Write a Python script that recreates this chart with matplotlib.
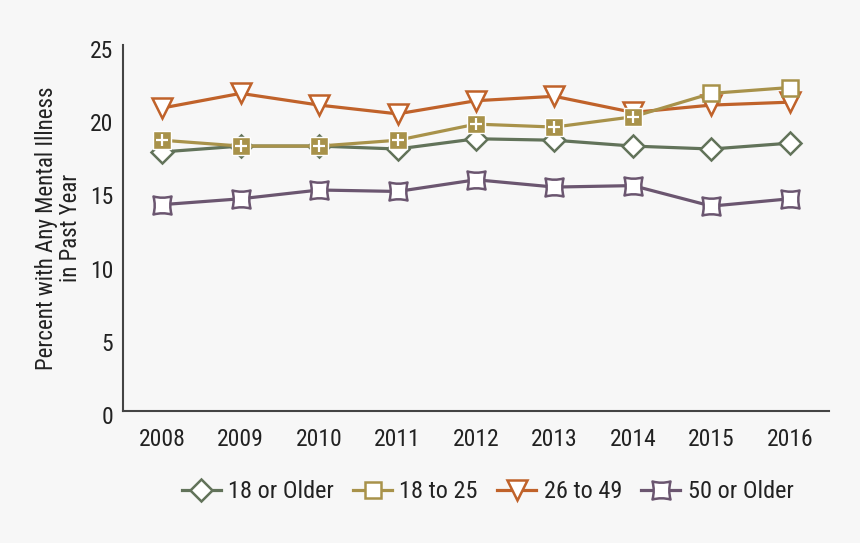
import matplotlib
matplotlib.use("Agg")
import matplotlib.pyplot as plt
from matplotlib.path import Path
from matplotlib import font_manager as fm
from matplotlib.transforms import ScaledTranslation
import numpy as np

years = [2008, 2009, 2010, 2011, 2012, 2013, 2014, 2015, 2016]
older18 = [17.7, 18.1, 18.1, 17.9, 18.6, 18.5, 18.1, 17.9, 18.3]
age18_25 = [18.5, 18.1, 18.1, 18.5, 19.6, 19.4, 20.1, 21.7, 22.1]
age26_49 = [20.7, 21.7, 20.9, 20.3, 21.2, 21.5, 20.4, 20.9, 21.1]
older50 = [14.1, 14.5, 15.1, 15.0, 15.8, 15.3, 15.4, 14.0, 14.5]
sig18_25 = [True, True, True, True, True, True, True, False, False]
yticks = [0, 5, 10, 15, 20, 25]
labels = ["18 or Older", "18 to 25", "26 to 49", "50 or Older"]

# pick a condensed font if one is available
cand = None
for f in fm.fontManager.ttflist:
    key = (f.name + " " + f.fname).lower()
    if ('narrow' in key or 'condensed' in key) and f.style == 'normal' \
            and str(f.weight) in ('400', 'normal', 'regular') and 'bold' not in key \
            and 'light' not in key and 'oblique' not in key and 'italic' not in key:
        score = 0 if 'liberation' in key else 1 if 'roboto' in key else 2 if 'dejavu' in key else 3
        if cand is None or score < cand[0]:
            cand = (score, f)
narrow = cand is not None
if narrow:
    f = cand[1]
    plt.rcParams['font.family'] = [f.name, 'DejaVu Sans']
    plt.rcParams['font.stretch'] = f.stretch
    scale = 1.0
else:
    plt.rcParams['font.family'] = ['Roboto', 'DejaVu Sans']
    scale = 0.9

green = "#62735a"
gold = "#a8924a"
orange = "#c0622a"
purple = "#6b5670"
bg = "#f7f7f7"
txt = "#222222"

# concave square marker
k = 0.72
verts = [(-1, -1), (0, -k), (1, -1), (k, 0), (1, 1), (0, k), (-1, 1), (-k, 0), (-1, -1), (-1, -1)]
codes = [Path.MOVETO, Path.CURVE3, Path.CURVE3, Path.CURVE3, Path.CURVE3,
         Path.CURVE3, Path.CURVE3, Path.CURVE3, Path.CURVE3, Path.CLOSEPOLY]
pinch = Path(verts, codes)

fig = plt.figure(figsize=(8.6, 5.43), dpi=100, facecolor=bg)
ax = fig.add_axes([0.143, 0.243, 0.821, 0.674], facecolor=bg)

lw = 2.3
ax.plot(years, older18, color=green, lw=lw, marker='D', ms=11, mfc='white',
        mec=green, mew=1.8, zorder=3, label=labels[0])
ax.plot(years, age26_49, color=orange, lw=lw, marker='v', ms=15, mfc='white',
        mec=orange, mew=1.8, zorder=4, label=labels[2])
ax.plot(years, age18_25, color=gold, lw=lw, marker='s', ms=12, mfc='white',
        mec=gold, mew=1.8, zorder=5, label=labels[1])
sx = [y for y, s in zip(years, sig18_25) if s]
sv = [v for v, s in zip(age18_25, sig18_25) if s]
ax.plot(sx, sv, ls='none', marker='s', ms=13, mfc=gold, mec='white', mew=1.0, zorder=6)
ax.plot(sx, sv, ls='none', marker='+', ms=9, mec='white', mew=1.6, zorder=7)
ax.plot(years, older50, color=purple, lw=lw, marker=pinch, ms=13, mfc='white',
        mec=purple, mew=1.8, zorder=3, label=labels[3])

ax.set_xlim(2007.5, 2016.5)
ax.set_ylim(0, 25)
ax.set_xticks(years)
ax.set_yticks(yticks)
ax.tick_params(length=0, labelsize=17 * scale, colors=txt)
ax.tick_params(axis='y', pad=7)
ax.tick_params(axis='x', pad=12)
shift = ScaledTranslation(0, -0.04, fig.dpi_scale_trans)
for lab in ax.get_yticklabels():
    lab.set_transform(lab.get_transform() + shift)
for s in ['top', 'right']:
    ax.spines[s].set_visible(False)
for s in ['left', 'bottom']:
    ax.spines[s].set_color('#444444')
    ax.spines[s].set_linewidth(1.5)

ax.set_ylabel("Percent with Any Mental Illness\nin Past Year", fontsize=16.5 * scale,
              color=txt, labelpad=6, linespacing=1.05)

h, l = ax.get_legend_handles_labels()
hd = dict(zip(l, h))
leg = fig.legend([hd[x] for x in labels], labels, loc='center', ncol=4,
                 bbox_to_anchor=(0.567, 0.094), frameon=False, fontsize=17.5 * scale,
                 handlelength=1.6, columnspacing=0.8, handletextpad=0.3)
for t in leg.get_texts():
    t.set_color(txt)

fig.savefig("out.png", dpi=100, facecolor=bg)
